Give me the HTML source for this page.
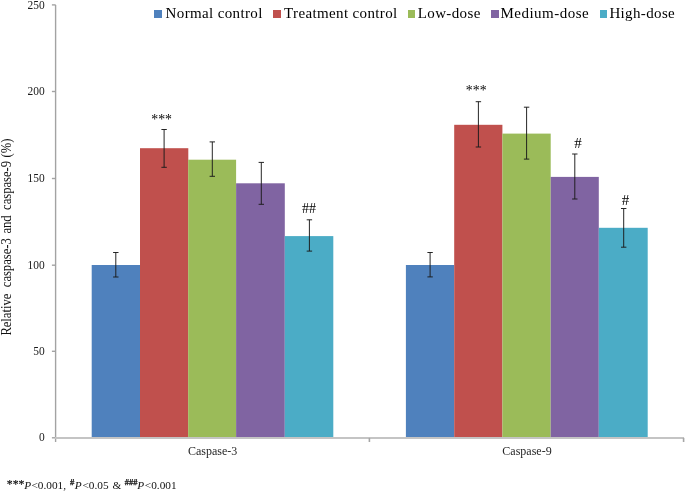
<!DOCTYPE html>
<html><head><meta charset="utf-8">
<style>
html,body{margin:0;padding:0;background:#fff;}
body{width:685px;height:491px;overflow:hidden;position:relative;}
svg{position:absolute;left:0;top:0;filter:blur(0.3px);}
.serif{font-family:"Liberation Serif",serif;}
.sans{font-family:"Liberation Sans",sans-serif;}
</style></head>
<body>
<svg width="685" height="491" viewBox="0 0 685 491">
<rect width="685" height="491" fill="#fff"/>
<!-- bars group 1 -->
<g>
<rect x="91.7" y="265" width="48.3" height="172.6" fill="#4F81BD"/>
<rect x="140" y="148.2" width="48.3" height="289.4" fill="#C0504D"/>
<rect x="188.2" y="159.7" width="47.9" height="277.9" fill="#9BBB59"/>
<rect x="236.1" y="183.3" width="48.7" height="254.3" fill="#8064A2"/>
<rect x="284.8" y="236.1" width="48.5" height="201.5" fill="#4BACC6"/>
<!-- bars group 2 -->
<rect x="405.9" y="265" width="48.3" height="172.6" fill="#4F81BD"/>
<rect x="454.2" y="124.8" width="48.2" height="312.8" fill="#C0504D"/>
<rect x="502.4" y="133.6" width="48.3" height="304" fill="#9BBB59"/>
<rect x="550.7" y="176.9" width="48.1" height="260.7" fill="#8064A2"/>
<rect x="598.8" y="227.8" width="48.9" height="209.8" fill="#4BACC6"/>
</g>
<!-- axes -->
<g stroke="#a3a3a3" stroke-width="1.4" fill="none">
<line x1="55.6" y1="4.9" x2="55.6" y2="442"/>
<line x1="51.9" y1="4.9" x2="55.7" y2="4.9"/>
<line x1="51.9" y1="91.5" x2="55.7" y2="91.5"/>
<line x1="51.9" y1="178.5" x2="55.7" y2="178.5"/>
<line x1="51.9" y1="265.2" x2="55.7" y2="265.2"/>
<line x1="51.9" y1="351.3" x2="55.7" y2="351.3"/>
<line x1="51.9" y1="437.8" x2="55.7" y2="437.8"/>
</g>
<g stroke="#c4c4c4" stroke-width="2" fill="none">
<line x1="55" y1="438.1" x2="684" y2="438.1"/>
</g>
<g stroke="#a6a6a6" stroke-width="1.6" fill="none">
<line x1="369.4" y1="437.9" x2="369.4" y2="442"/>
<line x1="683.6" y1="437.9" x2="683.6" y2="442"/>
</g>
<!-- error bars -->
<g stroke="#1a1a1a" stroke-width="0.95" fill="none">
<path d="M115.8 252.5V277M113.1 252.5h5.4M113.1 277h5.4"/>
<path d="M164.1 129.5V167.3M161.4 129.5h5.4M161.4 167.3h5.4"/>
<path d="M212.3 141.9V176.3M209.6 141.9h5.4M209.6 176.3h5.4"/>
<path d="M261.3 162.4V204.3M258.6 162.4h5.4M258.6 204.3h5.4"/>
<path d="M309.4 219.8V251.1M306.7 219.8h5.4M306.7 251.1h5.4"/>
<path d="M430.1 252.5V276.9M427.4 252.5h5.4M427.4 276.9h5.4"/>
<path d="M478.4 101.7V147M475.7 101.7h5.4M475.7 147h5.4"/>
<path d="M526.6 107.2V159.1M523.9 107.2h5.4M523.9 159.1h5.4"/>
<path d="M574.8 154V199M572.1 154h5.4M572.1 199h5.4"/>
<path d="M623.7 208.5V247.2M621 208.5h5.4M621 247.2h5.4"/>
</g>
<!-- y tick labels -->
<g class="serif" font-size="13" fill="#1a1a1a" text-anchor="end">
<text transform="translate(44.7,8.7) scale(0.88,1)">250</text>
<text transform="translate(44.7,95.0) scale(0.88,1)">200</text>
<text transform="translate(44.7,182.0) scale(0.88,1)">150</text>
<text transform="translate(44.7,268.7) scale(0.88,1)">100</text>
<text transform="translate(44.7,354.8) scale(0.88,1)">50</text>
<text transform="translate(44.7,441.3) scale(0.88,1)">0</text>
</g>
<!-- y axis title -->
<g class="serif" font-size="14" fill="#111">
<text transform="translate(10.7,335.6) rotate(-90) scale(0.9,1)">Relative</text>
<text transform="translate(10.7,287.2) rotate(-90) scale(0.9,1)">caspase-3</text>
<text transform="translate(10.7,233.6) rotate(-90) scale(0.9,1)">and</text>
<text transform="translate(10.7,209.9) rotate(-90) scale(0.9,1)">caspase-9</text>
<text transform="translate(10.7,157.4) rotate(-90) scale(0.9,1)">(%)</text>
</g>
<!-- category labels -->
<g class="serif" font-size="12" fill="#262626" text-anchor="middle">
<text x="212.6" y="455.2">Caspase-3</text>
<text x="527" y="455.2">Caspase-9</text>
</g>
<!-- significance marks -->
<g class="serif" fill="#000">
<text x="161.6" y="124.2" font-size="13.8" text-anchor="middle">***</text>
<text x="476.2" y="95.2" font-size="13.8" text-anchor="middle">***</text>
<text x="309" y="213" font-size="14" text-anchor="middle">##</text>
<text x="578" y="148" font-size="15" text-anchor="middle">#</text>
<text x="625.6" y="204.6" font-size="15" text-anchor="middle">#</text>
</g>
<!-- legend -->
<g shape-rendering="crispEdges">
<rect x="154.3" y="10" width="8" height="8" fill="#4F81BD"/>
<rect x="273" y="10" width="8" height="8" fill="#C0504D"/>
<rect x="407.5" y="10" width="7.5" height="8" fill="#9BBB59"/>
<rect x="491" y="10" width="7.5" height="8" fill="#8064A2"/>
<rect x="599.8" y="10" width="7.5" height="8" fill="#4BACC6"/>
</g>
<g class="serif" font-size="15" letter-spacing="0.36" fill="#000">
<text x="165.6" y="18.2">Normal control</text>
<text x="284.1" y="18.2">Treatment control</text>
<text x="417.8" y="18.2">Low-dose</text>
<text x="500.4" y="18.2" letter-spacing="0.5">Medium-dose</text>
<text x="609.4" y="18.2">High-dose</text>
</g>
<!-- footnote -->
<g class="serif" fill="#111" font-size="11.3">
<text x="6.8" y="488" font-size="11.8" stroke="#111" stroke-width="0.2">***</text>
<text x="24.2" y="488.6" font-style="italic">P</text>
<text x="31.4" y="488.6">&lt;0.001,</text>
<text x="70" y="485.2" font-size="8.6" font-weight="bold" stroke="#111" stroke-width="0.25">#</text>
<text x="74.8" y="488.6" font-style="italic">P</text>
<text x="82.4" y="488.6">&lt;0.05</text>
<text x="112.6" y="488.6">&amp;</text>
<text x="124.8" y="485.2" font-size="8.4" font-weight="bold" stroke="#111" stroke-width="0.25">###</text>
<text x="137.2" y="488.6" font-style="italic">P</text>
<text x="144.8" y="488.6">&lt;0.001</text>
</g>
</svg>
</body></html>
